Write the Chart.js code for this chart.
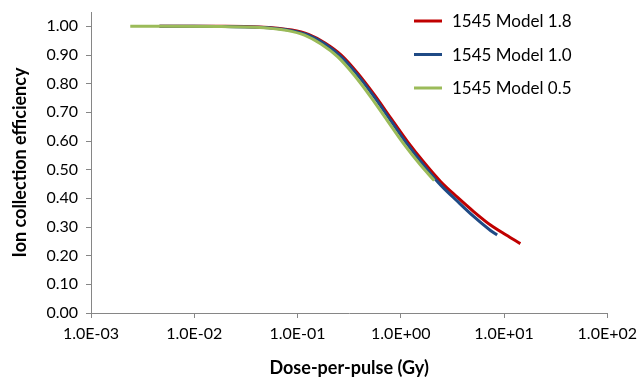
<!DOCTYPE html>
<html>
<head>
<meta charset="utf-8">
<script src="https://cdn.jsdelivr.net/npm/chart.js@4.4.1/dist/chart.umd.min.js"></script>
<style>
  html, body { margin: 0; padding: 0; background: #ffffff; }
  #wrap { width: 643px; height: 379px; position: relative; }
</style>
</head>
<body>
<div id="wrap"><canvas id="c" width="643" height="379"></canvas></div>
<script>
// ---- data ----
const seriesNames = ["1545 Model 1.8", "1545 Model 1.0", "1545 Model 0.5"];

const redDose = [0.0046, 0.01, 0.02, 0.0422, 0.0881, 0.1277, 0.1845, 0.2666, 0.386, 0.558, 0.807, 1.167, 1.689, 2.44, 3.53, 5.11, 7.39, 10.5, 14.4];
const redEff  = [1.000, 1.000, 1.000, 0.998, 0.987, 0.972, 0.942, 0.899, 0.835, 0.760, 0.678, 0.597, 0.524, 0.458, 0.404, 0.353, 0.307, 0.272, 0.242];

const blueDose = [0.0046, 0.01, 0.02, 0.0422, 0.0881, 0.1277, 0.1845, 0.2666, 0.386, 0.558, 0.807, 1.167, 1.689, 2.44, 3.53, 5.11, 7.39, 8.57];
const blueEff  = [1.000, 1.000, 0.999, 0.997, 0.985, 0.969, 0.938, 0.893, 0.828, 0.752, 0.669, 0.587, 0.513, 0.446, 0.390, 0.336, 0.288, 0.272];

const greenDose = [0.0024, 0.005, 0.0183, 0.0386, 0.0806, 0.1168, 0.1688, 0.244, 0.353, 0.511, 0.738, 1.068, 1.545, 2.11];
const greenEff  = [1.000, 1.000, 0.999, 0.997, 0.985, 0.969, 0.938, 0.894, 0.830, 0.754, 0.672, 0.590, 0.517, 0.462];

const xTickValues = [0.001, 0.01, 0.1, 1, 10, 100];
const xTickLabels = ["1.0E-03", "1.0E-02", "1.0E-01", "1.0E+00", "1.0E+01", "1.0E+02"];
const yTickValues = [0, 0.1, 0.2, 0.3, 0.4, 0.5, 0.6, 0.7, 0.8, 0.9, 1.0];
const yTickLabels = ["0.00", "0.10", "0.20", "0.30", "0.40", "0.50", "0.60", "0.70", "0.80", "0.90", "1.00"];

const xTitle = "Dose-per-pulse (Gy)";
const yTitle = "Ion collection efficiency";

// ---- styling ----
const colors = ["#C00000", "#1F4A85", "#9BBB59"];
const FONT = "Lato, 'Open Sans', sans-serif";
const AXIS = "#868686";

function pts(xs, ys) { return xs.map((x, i) => ({ x: x, y: ys[i] })); }

const datasets = [
  { label: seriesNames[0], data: pts(redDose, redEff), order: 3 },
  { label: seriesNames[1], data: pts(blueDose, blueEff), order: 2 },
  { label: seriesNames[2], data: pts(greenDose, greenEff), order: 1 }
].map((d, i) => Object.assign(d, {
  borderColor: colors[i],
  backgroundColor: colors[i],
  borderWidth: 3,
  pointRadius: 0,
  showLine: true,
  fill: false,
  cubicInterpolationMode: 'monotone',
  borderCapStyle: 'butt'
}));

const legendPlugin = {
  id: 'customLegend',
  afterDraw(chart) {
    const ctx = chart.ctx;
    ctx.save();
    chart.data.datasets.forEach((ds, i) => {
      const y = 21 + i * 33.5;
      ctx.strokeStyle = ds.borderColor;
      ctx.lineWidth = 3;
      ctx.beginPath();
      ctx.moveTo(414, y);
      ctx.lineTo(442, y);
      ctx.stroke();
      ctx.fillStyle = "#000000";
      ctx.font = "17px " + FONT;
      ctx.textBaseline = "middle";
      ctx.textAlign = "left";
      ctx.fillText(ds.label, 452, y + 1);
    });
    ctx.restore();
  }
};

new Chart(document.getElementById('c'), {
  type: 'scatter',
  data: { datasets: datasets },
  options: {
    responsive: false,
    animation: false,
    devicePixelRatio: 1,
    layout: { padding: { left: 0, right: 32, top: 12, bottom: 0 } },
    plugins: { legend: { display: false }, tooltip: { enabled: false } },
    scales: {
      x: {
        type: 'logarithmic',
        min: 0.001,
        max: 100,
        afterBuildTicks(scale) { scale.ticks = xTickValues.map(v => ({ value: v })); },
        afterFit(scale) { scale.height = 66; },
        ticks: {
          color: "#000000",
          font: { family: FONT, size: 16 },
          padding: 6,
          maxRotation: 0,
          autoSkip: false,
          callback(value) {
            const i = xTickValues.findIndex(v => Math.abs(Math.log10(v) - Math.log10(value)) < 1e-6);
            return i >= 0 ? xTickLabels[i] : '';
          }
        },
        grid: { drawOnChartArea: false, drawTicks: true, tickLength: 5, color: AXIS, lineWidth: 1 },
        border: { display: true, color: AXIS, width: 1 },
        title: {
          display: true, text: xTitle, color: "#000000",
          font: { family: FONT, size: 18, weight: 'bold', lineHeight: 1.2 },
          padding: { top: 0, bottom: 0 }
        }
      },
      y: {
        type: 'linear',
        min: 0,
        max: 1.05,
        afterBuildTicks(scale) { scale.ticks = yTickValues.map(v => ({ value: v })); },
        afterFit(scale) { scale.width = 91; scale.paddingTop = 0; scale.paddingBottom = 0; },
        ticks: {
          color: "#000000",
          font: { family: FONT, size: 16 },
          padding: 8,
          autoSkip: false,
          callback(value) {
            const i = yTickValues.findIndex(v => Math.abs(v - value) < 1e-6);
            return i >= 0 ? yTickLabels[i] : '';
          }
        },
        grid: { drawOnChartArea: false, drawTicks: true, tickLength: 5, color: AXIS, lineWidth: 1 },
        border: { display: true, color: AXIS, width: 1 },
        title: {
          display: true, text: yTitle, color: "#000000",
          font: { family: FONT, size: 18, weight: 'bold', lineHeight: 1.2 },
          padding: { top: 9, bottom: 0 }
        }
      }
    }
  },
  plugins: [legendPlugin]
});
</script>
</body>
</html>
